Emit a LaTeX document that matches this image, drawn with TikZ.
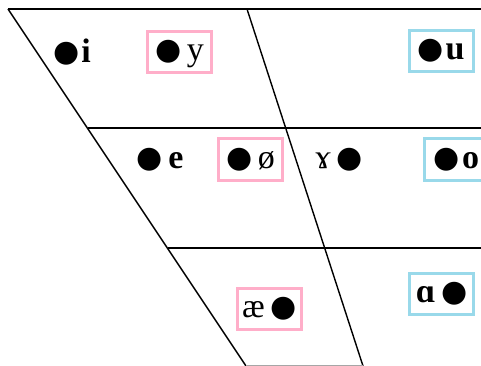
\documentclass[tikz,border=0pt]{standalone}
\usepackage{fontspec}
\setmainfont{Liberation Serif}
\newfontfamily\dotfont{DejaVu Sans}
\newcommand{\bul}{\raisebox{1pt}{\dotfont\fontsize{30}{36}\selectfont ●}}
\definecolor{rose}{HTML}{FFAEC9}
\definecolor{turq}{HTML}{99D9EA}
\begin{document}
\begin{tikzpicture}[x=1pt,y=-1pt,
  vlabel/.style={font=\fontsize{34}{40}\selectfont, anchor=base, inner sep=0pt,
                 text height=29pt, text depth=12pt, minimum width=64pt},
  rbox/.style={vlabel, draw=rose, line width=3pt},
  bbox/.style={vlabel, draw=turq, line width=3pt},
  chart/.style={line width=1.4pt, black}]
\useasboundingbox (0,0) rectangle (481,366);
\coordinate (tl) at (8,9);
\coordinate (tr) at (481,9);
\coordinate (tm) at (247,9);
\coordinate (ml) at (88,128);
\coordinate (mr) at (481,128);
\coordinate (ll) at (168,248);
\coordinate (lr) at (481,248);
\coordinate (bl) at (246,366);
\coordinate (bm) at (363,366);
\draw[chart, line width=2pt] (tl) -- (tr);
\draw[chart] (tl) -- (bl);
\draw[chart] (tm) -- (bm);
\draw[chart] (ml) -- (mr);
\draw[chart] (ll) -- (lr);
\draw[chart, draw=black!35] (bl) -- (bm);
\node[vlabel] (i) at (72,63) {\bul\kern2pt\textbf{i}};
\node[rbox] (y) at (179.5,61) {\bul\,y};
\node[bbox] (u) at (441,60) {\bul\kern2pt\textbf{u}};
\node[vlabel] (e) at (160,168) {\bul\,\textbf{e}};
\node[rbox] (oe) at (250.5,168) {\bul\,ø};
\node[vlabel] (gamma) at (339,168) {ɤ\,\bul};
\node[bbox] (o) at (456.5,168) {\bul\kern2pt\textbf{o}};
\node[rbox] (ae) at (269.5,317) {æ\,\bul};
\node[bbox] (a) at (441.5,302) {\textbf{ɑ}\,\bul};
\end{tikzpicture}
\end{document}
